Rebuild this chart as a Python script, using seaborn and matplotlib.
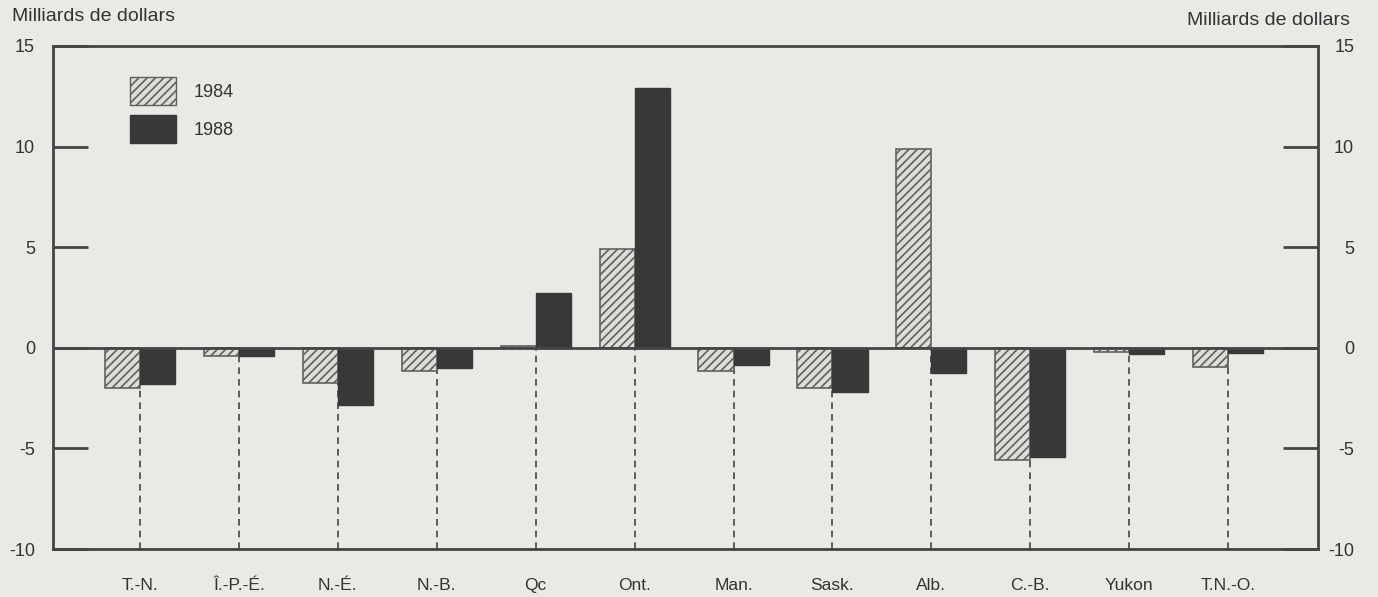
import matplotlib
matplotlib.use("Agg")
import matplotlib.pyplot as plt
import seaborn as sns
import pandas as pd
from matplotlib.patches import Patch

provinces = ["T.-N.", "Î.-P.-É.", "N.-É.", "N.-B.", "Qc", "Ont.", "Man.",
             "Sask.", "Alb.", "C.-B.", "Yukon", "T.N.-O."]
vals_1984 = [-2.0, -0.4, -1.75, -1.15, 0.1, 4.9, -1.15, -2.0, 9.9, -5.6, -0.2, -0.95]
vals_1988 = [-1.8, -0.4, -2.85, -1.0, 2.7, 12.9, -0.85, -2.2, -1.25, -5.45, -0.3, -0.25]
years = ["1984", "1988"]
yticks = [-10, -5, 0, 5, 10, 15]

df = pd.DataFrame({
    "province": provinces * 2,
    "year": [years[0]] * len(provinces) + [years[1]] * len(provinces),
    "value": vals_1984 + vals_1988,
})

bg = "#e8eae5"
dark = "#383838"
light = "#dcded8"
line = "#444444"
txt = "#333333"

sns.set_style("white")
plt.rcParams["font.family"] = ["Liberation Sans", "DejaVu Sans"]
plt.rcParams["hatch.color"] = "#505050"
plt.rcParams["hatch.linewidth"] = 1.2

fig = plt.figure(figsize=(13.78, 5.97), dpi=100, facecolor=bg)
ax = fig.add_axes([0.0385, 0.0804, 0.918, 0.8426])
ax.set_facecolor(bg)

# dashed guides from zero down to the bottom
ax.vlines(range(len(provinces)), -10, 0, colors=line, linestyles=(0, (4, 3)),
          linewidth=1.2, zorder=1)

sns.barplot(data=df, x="province", y="value", hue="year", order=provinces,
            hue_order=years, palette=[light, dark], width=0.71,
            saturation=1, legend=False, ax=ax, zorder=3)

for bar in ax.containers[0]:
    bar.set_hatch("////")
    bar.set_edgecolor("#606060")
    bar.set_linewidth(1.2)
for bar in ax.containers[1]:
    bar.set_edgecolor(dark)

ax.axhline(0, color=line, linewidth=2, zorder=4)

ax.set_ylim(-10, 15)
ax.set_xlim(-0.88, 11.91)
ax.set_yticks(yticks)
ax.set_yticklabels([str(t) for t in yticks])
ax.set_xlabel("")
ax.set_ylabel("")

for s in ax.spines.values():
    s.set_color(line)
    s.set_linewidth(2)

ax.tick_params(axis="y", direction="in", length=25, width=2, color=line,
               labelsize=13, labelcolor=txt, pad=13, left=True, right=False)
ax.tick_params(axis="x", direction="in", length=4, width=1.5, color=line,
               labelsize=12.5, labelcolor=txt, pad=21)

ax2 = ax.twinx()
ax2.set_ylim(-10, 15)
ax2.set_yticks(yticks)
ax2.set_yticklabels([str(t) for t in yticks])
ax2.tick_params(axis="y", direction="in", length=25, width=2, color=line,
                labelsize=13, labelcolor=txt, pad=26)
for lab in ax2.get_yticklabels():
    lab.set_horizontalalignment("right")
for s in ax2.spines.values():
    s.set_visible(False)

handles = [Patch(facecolor=light, edgecolor="#606060", hatch="////", label="1984"),
           Patch(facecolor=dark, edgecolor=dark, label="1988")]
ax.legend(handles=handles, loc="upper left", bbox_to_anchor=(0.054, 0.956),
          frameon=False, fontsize=13, handlelength=2.5, handleheight=2.0,
          labelspacing=0.55, handletextpad=1.0, borderpad=0, labelcolor=txt)

fig.text(0.009, 0.973, "Milliards de dollars", fontsize=14, color=txt,
         ha="left", va="center")
fig.text(0.98, 0.965, "Milliards de dollars", fontsize=14, color=txt,
         ha="right", va="center")

plt.savefig("out.png", dpi=100, facecolor=bg)
